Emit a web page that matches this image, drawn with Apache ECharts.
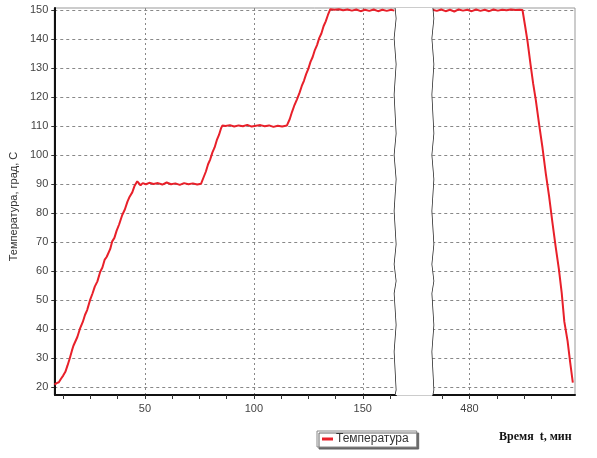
<!DOCTYPE html>
<html>
<head>
<meta charset="utf-8">
<script src="https://cdn.jsdelivr.net/npm/echarts@6/dist/echarts.min.js"></script>
<style>html,body{margin:0;padding:0;background:#fff}#c{width:597px;height:458px}</style>
</head>
<body>
<div id="c"></div>
<script>
// Segment before the axis break (time, min / temperature, °C)
var timeA = [8.5, 9.5, 10.5, 11.5, 12.5, 13.5, 14.5, 15.5, 16.5, 17.2, 18, 19, 20.3, 21.5, 22.5, 23.5, 24.9, 26, 27, 28.2, 29.5, 30.5, 31.5, 32.5, 34.1, 35, 36, 37, 38.2, 39.6, 40.8, 42, 43, 44.2, 45.3, 46.5, 47.3, 48, 49, 50.5, 52, 54, 56, 58, 60, 62, 64, 66, 68, 70, 72, 74, 75.8,
  77, 78, 79, 80, 81, 82, 83, 84, 85, 85.6, 87, 89, 91, 93, 95, 97, 99, 101, 103, 105, 107, 109, 111, 113, 115.2,
  116.5, 117.5, 118.5, 119.8, 121, 122, 123, 124, 125, 126, 127, 128, 129, 130, 131, 132, 133, 134, 135.1, 137, 139, 141, 143, 145, 147, 149, 151, 153, 155, 157, 159, 161, 163, 164.5];
var tempA = [20.8, 21.3, 21.6, 22.8, 23.9, 25.2, 27.4, 29.8, 32.5, 34.2, 34.6, 37.2, 40.3, 42.4, 44.8, 46.5, 50.1, 52.3, 54.6, 56.4, 59.7, 61.2, 63.8, 64.9, 67.6, 70.2, 71.4, 73.8, 76.1, 79.3, 81.2, 83.9, 85.6, 87.1, 89.4, 90.9, 90.2, 89.5, 90.3, 89.9, 90.4, 90, 90.3, 89.8, 90.5, 89.9, 90.2, 89.7, 90.3, 89.9, 90.2, 89.8, 90.1,
  92.4, 94.3, 96.8, 98.5, 100.9, 102.6, 105.1, 106.9, 109.3, 110.2, 110, 110.3, 109.8, 110.2, 109.9, 110.4, 109.8, 110.1, 110.3, 109.9, 110.2, 109.7, 110.1, 109.8, 110.2,
  112.4, 114.8, 116.9, 119.2, 121.5, 123.8, 125.6, 127.9, 129.7, 132.1, 133.8, 136.2, 137.9, 140.3, 141.9, 144.4, 146.1, 148.3, 150.3, 150.1, 150.3, 149.9, 150.2, 149.8, 150.2, 149.6, 150.1, 149.7, 150.2, 149.6, 150.1, 149.7, 150.1, 149.8];
// Segment after the axis break
var timeB = [463, 465, 467, 469, 471, 473, 475, 477, 479, 481, 483, 485, 487, 489, 491, 493, 495, 497, 499, 501, 503, 504.3,
  505.5, 506.6, 508, 509.2, 510.4, 512, 513.5, 515, 516.5, 518, 519.5, 521, 522.3, 523.5, 525, 526.2, 527.4];
var tempB = [150.1, 149.7, 150.2, 149.6, 150.1, 149.5, 150.2, 149.8, 150.1, 149.6, 150.2, 149.7, 150.1, 149.6, 150.2, 149.8, 150.1, 149.9, 150.2, 150, 150.1, 150,
  144.5, 139.3, 131.2, 124.6, 119, 110.2, 102.4, 93.6, 85.8, 76.9, 68.5, 60.6, 52.4, 42.5, 35.8, 28.4, 21.5];

var xLabelValues = [50, 100, 150, 480];
var xMinorTicks = [12.5, 25, 37.5, 50, 62.5, 75, 87.5, 100, 112.5, 125, 137.5, 150, 162.5, 467.5, 480, 492.5, 505, 517.5];
var yTickValues = [20, 30, 40, 50, 60, 70, 80, 90, 100, 110, 120, 130, 140, 150];
var seriesName = 'Температура';
var yAxisName = 'Температура, град, С';
var xAxisName = 'Время  t, мин';

var data = [];
for (var i = 0; i < timeA.length; i++) data.push([timeA[i], tempA[i]]);
data.push([300, null]);
for (var j = 0; j < timeB.length; j++) data.push([timeB[j], tempB[j]]);

var xMin = 8.4, xMax = 528.4;
var axisBreaks = [{ start: 165, end: 463, gap: 17 }];

var chart = echarts.init(document.getElementById('c'), null, { renderer: 'canvas' });
chart.setOption({
  animation: false,
  backgroundColor: '#fff',
  textStyle: { fontFamily: 'Liberation Sans, Arial, sans-serif' },
  title: {
    text: xAxisName,
    left: 494, top: 426,
    textStyle: { fontFamily: 'Liberation Serif, DejaVu Serif, serif', fontWeight: 'bold', fontSize: 12, color: '#111' }
  },
  legend: {
    left: 317, top: 431,
    padding: [2, 8, 2, 5],
    itemGap: 4,
    backgroundColor: '#fff',
    borderColor: '#888', borderWidth: 1,
    shadowColor: '#666', shadowOffsetX: 2, shadowOffsetY: 2, shadowBlur: 0,
    icon: 'rect', itemWidth: 11, itemHeight: 3,
    textStyle: { fontSize: 12, color: '#333', padding: [0, 0, 0, -2] },
    data: [seriesName]
  },
  grid: { left: 54, right: 22, top: 8, bottom: 63, show: true, borderColor: '#999', borderWidth: 1, backgroundColor: 'transparent' },
  xAxis: [{
    type: 'value', min: xMin, max: xMax,
    breaks: axisBreaks,
    breakArea: {
      show: true,
      itemStyle: { color: '#fff', borderColor: '#222', borderWidth: 1.5, borderType: 'solid', opacity: 1 },
      zigzagAmplitude: 1, zigzagMinSpan: 10, zigzagMaxSpan: 40, zigzagZ: 100,
      expandOnClick: false
    },
    axisLine: { show: true, onZero: false, lineStyle: { color: '#111', width: 2 } },
    axisTick: { show: false, customValues: xLabelValues },
    axisLabel: { customValues: xLabelValues, color: '#444', fontSize: 11, margin: 8 },
    splitLine: { show: true, lineStyle: { color: '#888', type: [2, 3], width: 1 } }
  }, {
    type: 'value', min: xMin, max: xMax, position: 'bottom',
    breaks: axisBreaks,
    breakArea: { show: false },
    axisLine: { show: false, onZero: false },
    axisTick: { show: true, customValues: xMinorTicks, length: 4, lineStyle: { color: '#333' } },
    axisLabel: { show: false },
    splitLine: { show: false }
  }],
  yAxis: {
    type: 'value', min: 17.2, max: 150.7,
    name: yAxisName, nameLocation: 'middle', nameGap: 34, nameRotate: 90,
    nameTextStyle: { fontSize: 11, color: '#333', padding: [0, 0, 0, -10] },
    axisLine: { show: true, onZero: false, lineStyle: { color: '#111', width: 2 } },
    axisTick: { show: true, customValues: yTickValues, length: 3, lineStyle: { color: '#333' } },
    axisLabel: { customValues: yTickValues, color: '#444', fontSize: 11, margin: 6 },
    splitLine: { show: true, lineStyle: { color: '#888', type: [3, 3], width: 1 } }
  },
  series: [{
    name: seriesName, type: 'line', data: data,
    showSymbol: false, connectNulls: false,
    lineStyle: { color: '#e8202a', width: 2 },
    itemStyle: { color: '#e8202a' }
  }]
});
</script>
</body>
</html>
